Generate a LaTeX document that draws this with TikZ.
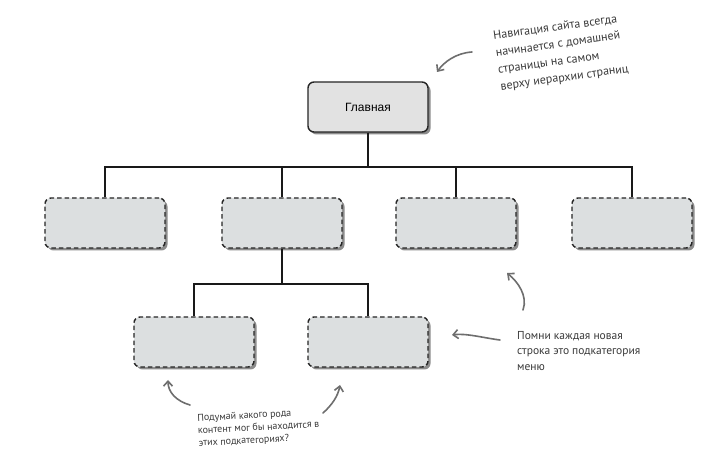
\documentclass[tikz,border=0pt]{standalone}
\usepackage{fontspec}
\setmainfont{Liberation Sans}
\newfontfamily\handfont{PT Sans}
\usetikzlibrary{shadows,arrows.meta}
\definecolor{boxfill}{HTML}{DCDFE0}
\definecolor{mainfill}{HTML}{E2E2E2}
\definecolor{notecol}{HTML}{6E6E6E}
\definecolor{notetext}{HTML}{3A3A3A}
\begin{document}
\begin{tikzpicture}[x=1pt,y=-1pt,
  mainbox/.style={draw=black!85, line width=1.4pt, fill=mainfill, rounded corners=6pt,
    minimum width=120pt, minimum height=50pt, font=\fontsize{12}{14}\selectfont,
    drop shadow={shadow xshift=2.5pt, shadow yshift=-2.5pt, opacity=.45, fill=black}},
  subbox/.style={draw=black!85, line width=1.4pt, fill=boxfill, rounded corners=6pt,
    dash pattern=on 4.5pt off 3pt,
    minimum width=120pt, minimum height=50pt,
    drop shadow={shadow xshift=2.5pt, shadow yshift=-2.5pt, opacity=.45, fill=black}},
  conn/.style={draw=black!90, line width=1.2pt},
  note/.style={draw=notecol, line width=1.6pt, line cap=round, -{Straight Barb[length=5pt,width=9pt]}},
  notetxt/.style={text=notetext, align=left, inner sep=0pt}
]
\useasboundingbox[fill=white] (0,0) rectangle (710,470);

\node[mainbox] (home) at (368,107) {Главная};

\node[subbox] (a) at (105,223) {};
\node[subbox] (b) at (282,223) {};
\node[subbox] (c) at (456,223) {};
\node[subbox] (d) at (632,223) {};
\node[subbox] (e) at (194,342) {};
\node[subbox] (f) at (368,342) {};

\coordinate (bus) at (368,167);
\coordinate (bus2) at (282,284);

\draw[conn] (home.south) -- (bus);
\draw[conn] (a.north) |- (bus) -| (d.north);
\draw[conn] (b.north) -- (b.north |- bus);
\draw[conn] (c.north) -- (c.north |- bus);
\draw[conn] (b.south) -- (bus2);
\draw[conn] (e.north) |- (bus2) -| (f.north);

% notes
\node[notetxt, rotate=8, font=\handfont\fontsize{12}{17}\selectfont] (n1) at (561,53)
  {Навигация сайта всегда\\начинается с домашней\\страницы на самом\\верху иерархии страниц};
\node[notetxt, anchor=north west, font=\handfont\fontsize{11.5}{15.5}\selectfont] (n2) at (517,331)
  {Помни каждая новая\\строка это подкатегория\\меню};
\node[notetxt, anchor=north west, rotate=3, font=\handfont\fontsize{10}{12.5}\selectfont] (n3) at (197,414)
  {Подумай какого рода\\контент мог бы находится в\\этих подкатегориях?};

\coordinate (t1) at (472,52);  \coordinate (h1) at (437,72);
\coordinate (t2) at (523,310); \coordinate (h2) at (507,273);
\coordinate (t3) at (500,340); \coordinate (h3) at (452,335);
\coordinate (t4) at (190,405); \coordinate (h4) at (168,380);
\coordinate (t5) at (323,413); \coordinate (h5) at (340,385);

\draw[note] (t1) .. controls (456,53) and (444,62) .. (h1);
\draw[note] (t2) .. controls (528,296) and (518,282) .. (h2);
\draw[note] (t3) .. controls (484,338) and (466,333) .. (h3);
\draw[note] (t4) .. controls (176,401) and (168,392) .. (h4);
\draw[note] (t5) .. controls (332,405) and (338,396) .. (h5);
\end{tikzpicture}
\end{document}
